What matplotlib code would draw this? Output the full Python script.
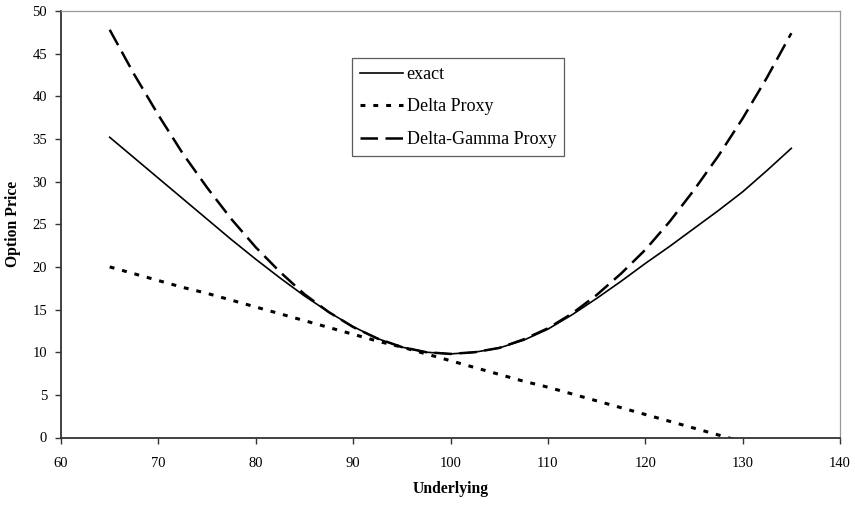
import matplotlib.pyplot as plt

plt.rcParams["font.family"] = ["Liberation Serif", "DejaVu Serif"]

# Werte (Schritt 2.5)
underlying = [65, 67.5, 70, 72.5, 75, 77.5, 80, 82.5, 85, 87.5, 90, 92.5, 95, 97.5,
              100, 102.5, 105, 107.5, 110, 112.5, 115, 117.5, 120, 122.5, 125,
              127.5, 130, 132.5, 135]
exact = [35.2, 32.8, 30.4, 28.0, 25.6, 23.2, 20.9, 18.7, 16.6, 14.7, 13.0, 11.6, 10.6, 10.0,
         9.8, 10.0, 10.5, 11.4, 12.7, 14.4, 16.3, 18.3, 20.4, 22.4, 24.5,
         26.6, 28.8, 31.3, 33.9]
delta_proxy = [20.0, 19.2, 18.4, 17.6, 16.9, 16.1, 15.3, 14.5, 13.7, 12.9, 12.1, 11.3, 10.6, 9.8,
               9.0, 8.2, 7.4, 6.6, 5.9, 5.1, 4.3, 3.5, 2.7, 1.9, 1.1,
               0.3, -0.5, -1.2, -2.0]
delta_gamma = [47.8, 42.6, 37.8, 33.3, 29.3, 25.6, 22.3, 19.4, 16.8, 14.7, 12.95, 11.6, 10.6, 10.0,
               9.8, 10.0, 10.5, 11.5, 12.8, 14.55, 16.7, 19.2, 22.0, 25.3, 29.0,
               33.0, 37.4, 42.2, 47.4]

fig = plt.figure(figsize=(8.55, 5.05), dpi=100)
ax = fig.add_axes([61 / 855, 1 - 437.5 / 505, 779 / 855, 426.5 / 505])

ax.plot(underlying, exact, color="black", lw=1.2, label="exact")
dp, = ax.plot(underlying, delta_proxy, color="black", lw=2.2, label="Delta Proxy")
dp.set_dashes([1.6, 2.6])
dg, = ax.plot(underlying, delta_gamma, color="black", lw=1.8, label="Delta-Gamma Proxy")
dg.set_dashes([7.0, 3.0])

ax.set_xlim(60, 140)
ax.set_ylim(0, 50)
ax.set_xticks(range(60, 141, 10))
ax.set_yticks(range(0, 51, 5))

for side in ("top", "right"):
    ax.spines[side].set_color("#999999")
    ax.spines[side].set_linewidth(0.9)
for side in ("left", "bottom"):
    ax.spines[side].set_color("#333333")
    ax.spines[side].set_linewidth(1.3)

ax.tick_params(axis="y", direction="out", length=4, width=1, color="#333333",
               labelsize=10.5, pad=6)
ax.tick_params(axis="x", direction="out", length=4, width=1, color="#333333",
               labelsize=10.5, pad=10)

ax.set_xlabel("Underlying", fontsize=11.3, fontweight="bold", labelpad=8)
ax.set_ylabel("Option Price", fontsize=11.3, fontweight="bold", labelpad=8)

leg = ax.legend(loc="upper left", bbox_to_anchor=(0.3736, 0.8898), borderaxespad=0,
                fontsize=13, fancybox=False, frameon=True, handlelength=2.35,
                handletextpad=0.22, labelspacing=0.85, borderpad=0.45)
leg.get_frame().set_edgecolor("#333333")
leg.get_frame().set_linewidth(0.9)

fig.savefig("out.png", dpi=100, facecolor="white")
